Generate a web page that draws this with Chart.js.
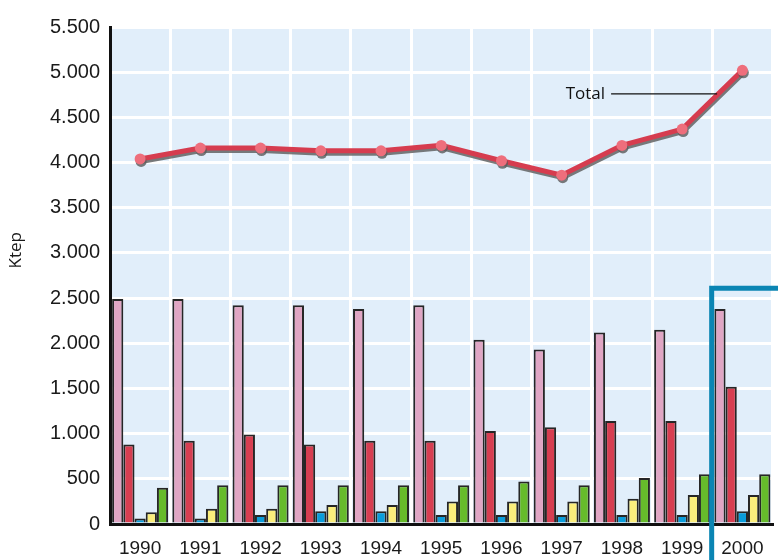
<!DOCTYPE html>
<html>
<head>
<meta charset="utf-8">
<script src="https://cdn.jsdelivr.net/npm/chart.js@4/dist/chart.umd.min.js"></script>
<style>
  html, body { margin: 0; padding: 0; background: #fff; }
  #wrap { width: 778px; height: 560px; }
</style>
</head>
<body>
<div id="wrap"><canvas id="chart" width="778" height="560"></canvas></div>
<script>
// Chart data
const years = ['1990', '1991', '1992', '1993', '1994', '1995', '1996', '1997', '1998', '1999', '2000'];
const seriesPink   = [2490, 2490, 2420, 2420, 2380, 2420, 2040, 1930, 2120, 2150, 2380];
const seriesRed    = [880, 920, 990, 880, 920, 920, 1030, 1070, 1140, 1140, 1520];
const seriesBlue   = [60, 60, 100, 140, 140, 100, 100, 100, 100, 100, 140];
const seriesYellow = [130, 170, 170, 210, 210, 250, 250, 250, 280, 320, 320];
const seriesGreen  = [400, 430, 430, 430, 430, 430, 470, 430, 510, 550, 550];
const total        = [4040, 4160, 4160, 4130, 4130, 4190, 4020, 3860, 4190, 4370, 5020];
const yTicks = { min: 0, max: 5500, step: 500 };

const FONT = '"Liberation Sans", Arial, sans-serif';
const LABEL_FONT = '"Open Sans", sans-serif';

// thousands with a dot: 5500 -> 5.500
function fmt(v) {
    if (v < 1000) return String(v);
    return Math.floor(v / 1000) + '.' + String(v % 1000).padStart(3, '0');
}

function bar(label, data, color) {
    return {
        type: 'bar',
        label: label,
        data: data,
        backgroundColor: color,
        borderColor: '#262626',
        borderWidth: 2,
        borderSkipped: 'bottom',
        order: 2
    };
}

// light blue plot background
const plotBg = {
    id: 'plotBg',
    beforeDraw(chart) {
        const a = chart.chartArea, ctx = chart.ctx;
        ctx.save();
        ctx.fillStyle = '#e1eefa';
        ctx.fillRect(a.left, a.top, a.right - a.left, a.bottom - a.top);
        ctx.restore();
    }
};

// grey drop shadow under the total line
const lineShadow = {
    id: 'lineShadow',
    beforeDatasetDraw(chart, args) {
        if (args.index !== 5) return;
        const ctx = chart.ctx;
        ctx.save();
        ctx.shadowColor = 'rgba(90,90,90,0.8)';
        ctx.shadowOffsetX = 1;
        ctx.shadowOffsetY = 2.5;
        ctx.shadowBlur = 0;
    },
    afterDatasetDraw(chart, args) {
        if (args.index !== 5) return;
        chart.ctx.restore();
    }
};

// axis title, "Total" callout and the blue frame round the year 2000
const extras = {
    id: 'extras',
    afterDraw(chart) {
        const x = chart.scales.x, y = chart.scales.y, ctx = chart.ctx;
        ctx.save();
        ctx.fillStyle = '#1a1a1a';
        ctx.font = '17px ' + LABEL_FONT;
        ctx.textAlign = 'center';
        ctx.textBaseline = 'middle';
        ctx.translate(16, y.getPixelForValue(3030));
        ctx.rotate(-Math.PI / 2);
        ctx.fillText('Ktep', 0, 0);
        ctx.restore();

        ctx.save();
        // callout
        const ly = y.getPixelForValue(4760);
        const endX = x.getPixelForValue(9.58);
        const startX = x.getPixelForValue(7.82);
        ctx.strokeStyle = '#111';
        ctx.lineWidth = 1.2;
        ctx.beginPath();
        ctx.moveTo(startX, ly);
        ctx.lineTo(endX, ly);
        ctx.stroke();
        ctx.fillStyle = '#111';
        ctx.font = '17px ' + LABEL_FONT;
        ctx.textAlign = 'right';
        ctx.textBaseline = 'middle';
        ctx.fillText('Total', startX - 6, ly);
        // frame
        const fx = x.getPixelForValue(9.49);
        const fy = y.getPixelForValue(2610);
        ctx.strokeStyle = '#0b85b3';
        ctx.lineWidth = 5;
        ctx.beginPath();
        ctx.moveTo(fx, chart.height + 5);
        ctx.lineTo(fx, fy);
        ctx.lineTo(chart.width + 5, fy);
        ctx.stroke();
        ctx.restore();
    }
};

const ctx = document.getElementById('chart').getContext('2d');

new Chart(ctx, {
    data: {
        labels: years,
        datasets: [
            bar('A', seriesPink, '#e0a6c4'),
            bar('B', seriesRed, '#d73e51'),
            bar('C', seriesBlue, '#0a9ddb'),
            bar('D', seriesYellow, '#fbee7c'),
            bar('E', seriesGreen, '#66bb2b'),
            {
                type: 'line',
                label: 'Total',
                data: total,
                borderColor: '#d63c4f',
                borderWidth: 5,
                pointRadius: 5.5,
                pointBackgroundColor: '#ee6e7c',
                pointBorderWidth: 0,
                tension: 0,
                order: 1
            }
        ]
    },
    options: {
        responsive: false,
        animation: false,
        layout: { padding: { top: 27, right: 3, left: 0, bottom: 0 } },
        plugins: {
            legend: { display: false },
            tooltip: { enabled: false }
        },
        datasets: {
            bar: { categoryPercentage: 0.93, barPercentage: 1 }
        },
        scales: {
            x: {
                offset: true,
                grid: { color: '#ffffff', lineWidth: 3, offset: true, drawTicks: false },
                border: { color: '#111', width: 3 },
                ticks: { color: '#1a1a1a', font: { family: FONT, size: 19 }, padding: 13, maxRotation: 0 },
                afterFit(scale) { scale.height = 36; }
            },
            y: {
                min: yTicks.min,
                max: yTicks.max,
                grid: { color: '#ffffff', lineWidth: 3, drawTicks: false },
                border: { color: '#111', width: 3 },
                ticks: {
                    stepSize: yTicks.step,
                    color: '#1a1a1a',
                    font: { family: FONT, size: 20 },
                    padding: 10,
                    callback: (v) => fmt(v)
                },
                afterFit(scale) { scale.width = 110; }
            }
        }
    },
    plugins: [plotBg, lineShadow, extras]
});
</script>
</body>
</html>
